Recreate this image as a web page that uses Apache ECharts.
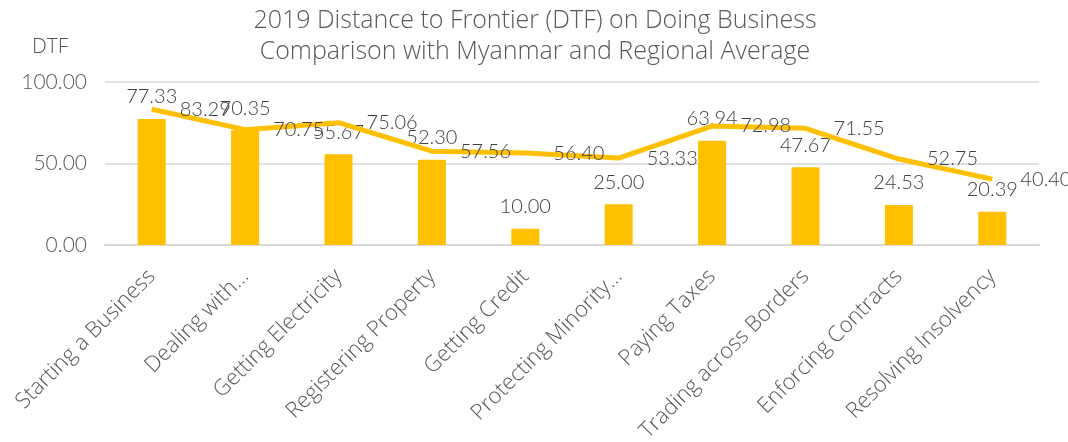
<!DOCTYPE html>
<html>
<head>
<meta charset="utf-8">
<script src="https://cdn.jsdelivr.net/npm/echarts@6/dist/echarts.min.js"></script>
<style>html,body{margin:0;padding:0;background:#fff;}#c{width:1068px;height:442px;}</style>
</head>
<body>
<div id="c"></div>
<script>
const categories = ["Starting a Business","Dealing with…","Getting Electricity","Registering Property","Getting Credit","Protecting Minority…","Paying Taxes","Trading across Borders","Enforcing Contracts","Resolving Insolvency"];
const myanmar = [77.33, 70.35, 55.67, 52.30, 10.00, 25.00, 63.94, 47.67, 24.53, 20.39];
const regional = [83.29, 70.75, 75.06, 57.56, 56.40, 53.33, 72.98, 71.55, 52.75, 40.40];
const yTicks = [0, 50, 100];

const FONT = 'Lato';
const WIDE = 'Open Sans';
const chart = echarts.init(document.getElementById('c'));
chart.setOption({
  animation: false,
  backgroundColor: '#fff',
  title: [{
    text: '2019 Distance to Frontier (DTF) on Doing Business\nComparison with Myanmar and Regional Average',
    left: 530, top: 0, textAlign: 'center',
    textStyle: {fontFamily: WIDE, fontWeight: 300, fontSize: 25, color: '#595959', lineHeight: 31}
  }, {
    text: 'DTF', left: 27, top: 32,
    textStyle: {fontFamily: WIDE, fontWeight: 300, fontSize: 21, color: '#595959'}
  }],
  grid: {left: 105, right: 29, top: 82, bottom: 197, containLabel: false, outerBoundsMode: 'none'},
  xAxis: {
    type: 'category', data: categories,
    axisTick: {show: false},
    axisLine: {lineStyle: {color: '#d9d9d9', width: 2}},
    axisLabel: {rotate: 45, interval: 0, margin: 28, fontFamily: WIDE, fontWeight: 300, fontSize: 22, color: '#595959'}
  },
  yAxis: {
    type: 'value', min: yTicks[0], max: yTicks[2], interval: 50,
    axisLine: {show: false}, axisTick: {show: false},
    splitLine: {lineStyle: {color: '#d9d9d9', width: 1.5}},
    axisLabel: {margin: 18, fontFamily: FONT, fontWeight: 300, fontSize: 21, color: '#595959',
      formatter: v => v.toFixed(2)}
  },
  series: [{
    type: 'bar', data: myanmar, barWidth: 28,
    itemStyle: {color: '#FFC000'},
    labelLayout: {hideOverlap: false},
    label: {show: true, position: 'top', distance: 12, fontFamily: FONT, fontWeight: 300, fontSize: 20, color: '#404040',
      formatter: p => p.value.toFixed(2)}
  }, {
    type: 'line', data: regional, symbol: 'circle', symbolSize: 0.1, showSymbol: true,
    itemStyle: {color: '#FFC000'},
    lineStyle: {color: '#FFC000', width: 5},
    labelLayout: {hideOverlap: false},
    label: {show: true, position: 'right', distance: 28, fontFamily: FONT, fontWeight: 300, fontSize: 20, color: '#404040',
      formatter: p => p.value.toFixed(2)},
    z: 3
  }]
});
</script>
</body>
</html>
